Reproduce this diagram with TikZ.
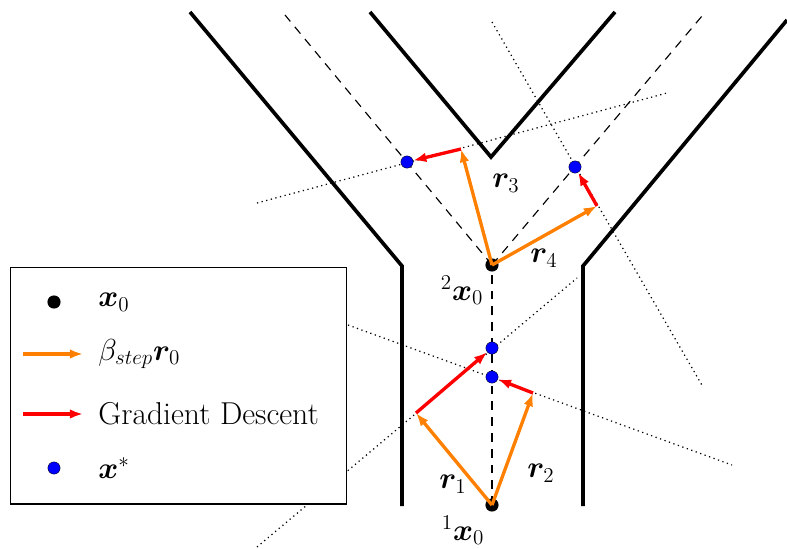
\documentclass[tikz,border=0pt]{standalone}
\usepackage{amsmath}
\usepackage{bm}
\usetikzlibrary{arrows.meta}
\definecolor{steporange}{RGB}{255,128,0}

\begin{document}
\begin{tikzpicture}[x=0.02cm, y=-0.02cm,
    wall/.style={line width=2.1pt, line join=miter},
    guide/.style={dash pattern=on 5pt off 4pt, line width=0.65pt},
    plane/.style={dotted, line width=0.7pt},
    stepvec/.style={steporange, line width=1.9pt, -{Latex[length=7.5pt,width=5.5pt]}},
    gradvec/.style={red, line width=1.9pt, -{Latex[length=7.5pt,width=5.5pt]}},
    start/.style={circle, fill=black, inner sep=0pt, minimum size=7.5pt},
    optimum/.style={circle, fill=blue, draw=black, line width=0.2pt, inner sep=0pt, minimum size=7pt},
    lbl/.style={font=\fontsize{18}{21}\selectfont, inner sep=0pt}]
  \useasboundingbox (0,0) rectangle (787,548);
  % walls of the valley
  \draw[wall] (190,12) -- (402,266) -- (402,506);
  \draw[wall] (787,20) -- (583,266) -- (583,506);
  \draw[wall] (370,12) -- (491,157) -- (615,12);
  % tangent planes
  \draw[plane] (257,547) -- (577,278);
  \draw[plane] (348,325) -- (732,465);
  \draw[plane] (257,203) -- (667,93);
  \draw[plane] (492,22) -- (703,387);
  % start points and guides
  \node[start] (p1) at (492,505) {};
  \node[start] (p2) at (492,265) {};
  \coordinate (gl) at (285,15);
  \coordinate (gr) at (702,16);
  \draw[guide] (p1.center) -- (p2.center);
  \draw[guide] (p2.center) -- (gl);
  \draw[guide] (p2.center) -- (gr);
  % optima
  \node[optimum] (s1) at (492,348) {};
  \node[optimum] (s2) at (492,377) {};
  \node[optimum] (s3) at (407,162) {};
  \node[optimum] (s4) at (575,167) {};
  % steps
  \coordinate (t1) at (416,413);
  \coordinate (t2) at (533,393);
  \coordinate (t3) at (461,149);
  \coordinate (t4) at (597,206);
  \draw[stepvec] (p1.center) -- (t1);
  \draw[stepvec] (p1.center) -- (t2);
  \draw[stepvec] (p2.center) -- (t3);
  \draw[stepvec] (p2.center) -- (t4);
  \draw[gradvec] (t1) -- (s1);
  \draw[gradvec] (t2) -- (s2);
  \draw[gradvec] (t3) -- (s3);
  \draw[gradvec] (t4) -- (s4);
  % labels
  \node[lbl] (r1) at (453,484) {$\bm{r}_1$};
  \node[lbl] (r2) at (541,473) {$\bm{r}_2$};
  \node[lbl] (r3) at (506,183) {$\bm{r}_3$};
  \node[lbl] (r4) at (544,258) {$\bm{r}_4$};
  \node[lbl] (x1) at (463,530) {${}^1\bm{x}_0$};
  \node[lbl] (x2) at (462,290) {${}^2\bm{x}_0$};
  % legend
  \node[draw, fill=white, line width=0.6pt, inner sep=0pt,
        minimum width=6.74cm, minimum height=4.74cm] (legend) at (178.5,385.5) {};
  \node[start] (k1) at (54,302) {};
  \node[lbl, anchor=west] (k1t) at (98,302) {$\bm{x}_0$};
  \coordinate (k2a) at (23,354);
  \coordinate (k2b) at (83,354);
  \draw[stepvec] (k2a) -- (k2b);
  \node[lbl, anchor=west] (k2t) at (98,354) {$\beta_{step}\bm{r}_0$};
  \coordinate (k3a) at (23,414);
  \coordinate (k3b) at (83,414);
  \draw[gradvec] (k3a) -- (k3b);
  \node[lbl, anchor=west] (k3t) at (98,414) {Gradient Descent};
  \node[optimum] (k4) at (54,468) {};
  \node[lbl, anchor=west] (k4t) at (98,468) {$\bm{x}^*$};
\end{tikzpicture}
\end{document}
